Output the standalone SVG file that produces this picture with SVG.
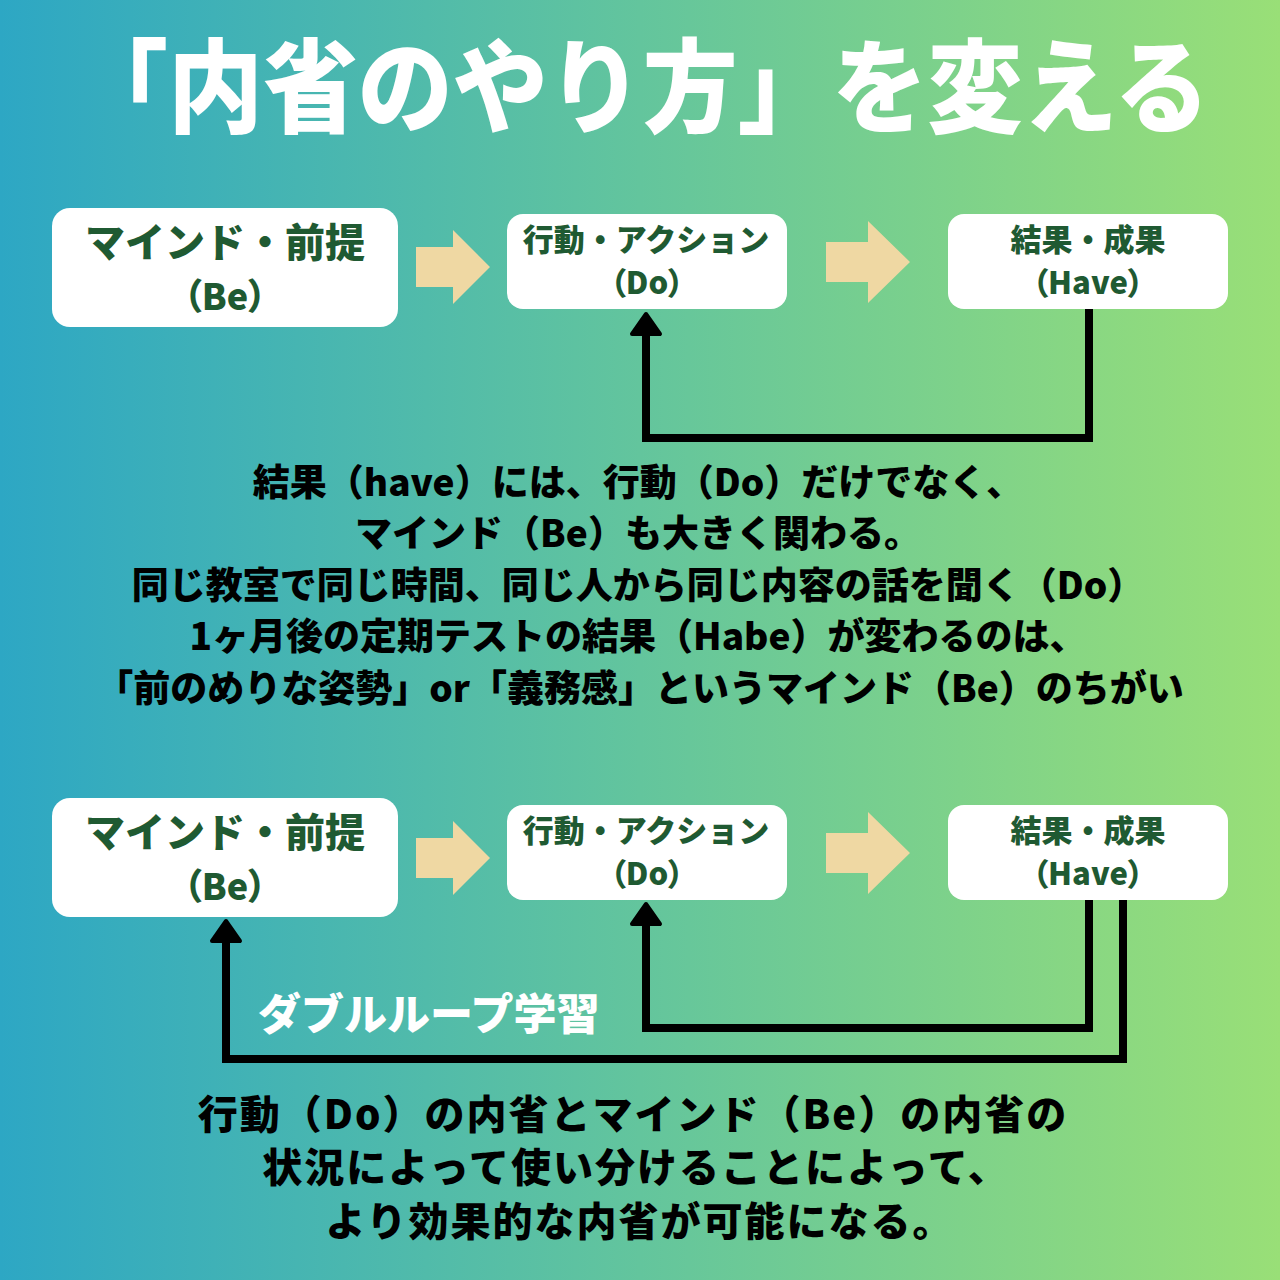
<svg xmlns="http://www.w3.org/2000/svg" width="1280" height="1280" viewBox="0 0 1280 1280">
<defs>
<linearGradient id="bg" x1="0" y1="0" x2="1" y2="0">
<stop offset="0" stop-color="#2DA7C4"/>
<stop offset="0.5" stop-color="#63C59D"/>
<stop offset="1" stop-color="#99DF77"/>
</linearGradient>
<marker id="ah" viewBox="-4 -20 30 40" refX="0" refY="0" markerWidth="30" markerHeight="40" markerUnits="userSpaceOnUse" orient="auto">
<path d="M0,-14 L20,0 L0,14 Z" fill="#000" stroke="#000" stroke-width="4" stroke-linejoin="round"/>
</marker>
<path id="arrowA" d="M0,-20 H37 V-37 L74,0 L37,37 V20 H0 Z"/>
<path id="arrowB" d="M0,-20 H42 V-41 L84,0 L42,41 V20 H0 Z"/>
</defs>
<style>
.jp{font-family:"Noto Sans CJK JP","Noto Sans CJK SC",sans-serif;}
.title{font-size:102px;font-weight:900;fill:#fff;}
.box{fill:#fff;}
.bt{fill:#1F5A32;font-weight:900;text-anchor:middle;}
.palt{font-feature-settings:"palt";}
.body{font-weight:900;fill:#000;text-anchor:middle;}
.conn{fill:none;stroke:#000;stroke-width:8;stroke-linejoin:miter;}
.barrow{fill:#EFD8A3;}
</style>
<rect width="1280" height="1280" fill="url(#bg)"/>

<text class="jp title" transform="translate(73,125) scale(0.931,1)" x="0" y="0">「内省のやり方」を変える</text>

<g id="row1">
<g id="be1"><rect class="box" x="52" y="208" width="346" height="119" rx="18"/>
<text class="jp bt" x="225" y="257" font-size="40">マインド・前提</text>
<text class="jp bt palt" x="225" y="310" font-size="36">（Be）</text></g>
<use href="#arrowA" class="barrow" x="416" y="267"/>
<g id="do1"><rect class="box" x="507" y="214" width="280" height="95" rx="16"/>
<text class="jp bt" x="646" y="251" font-size="31">行動・アクション</text>
<text class="jp bt palt" x="647" y="294" font-size="31">（Do）</text></g>
<use href="#arrowB" class="barrow" x="826" y="262"/>
<g id="have1"><rect class="box" x="948" y="214" width="280" height="95" rx="16"/>
<text class="jp bt" x="1088" y="251" font-size="31">結果・成果</text>
<text class="jp bt palt" x="1088" y="294" font-size="31">（Have）</text></g>
</g>

<g id="row2">
<g id="be2"><rect class="box" x="52" y="798" width="346" height="119" rx="18"/>
<text class="jp bt" x="225" y="847" font-size="40">マインド・前提</text>
<text class="jp bt palt" x="225" y="900" font-size="36">（Be）</text></g>
<use href="#arrowA" class="barrow" x="416" y="858"/>
<g id="do2"><rect class="box" x="507" y="805" width="280" height="95" rx="16"/>
<text class="jp bt" x="646" y="842" font-size="31">行動・アクション</text>
<text class="jp bt palt" x="647" y="885" font-size="31">（Do）</text></g>
<use href="#arrowB" class="barrow" x="826" y="853"/>
<g id="have2"><rect class="box" x="948" y="805" width="280" height="95" rx="16"/>
<text class="jp bt" x="1088" y="842" font-size="31">結果・成果</text>
<text class="jp bt palt" x="1088" y="885" font-size="31">（Have）</text></g>
</g>

<g id="connectors">
<path class="conn" d="M1089,309 V438 H646 V334" marker-end="url(#ah)"/>
<path class="conn" d="M1089,900 V1028 H646 V924" marker-end="url(#ah)"/>
<path class="conn" d="M1123,900 V1059 H226 V941" marker-end="url(#ah)"/>
</g>

<text class="jp" x="258" y="1030" font-size="43" font-weight="900" fill="#fff">ダブルループ学習</text>

<g id="mid-text" class="jp body" font-size="37">
<text x="638" y="496">結果（have）には、行動（Do）だけでなく、</text>
<text x="638" y="547">マインド（Be）も大きく関わる。</text>
<text x="638" y="599">同じ教室で同じ時間、同じ人から同じ内容の話を聞く（Do）</text>
<text x="638" y="650">1ヶ月後の定期テストの結果（Habe）が変わるのは、</text>
<text x="640" y="702">「前のめりな姿勢」or「義務感」というマインド（Be）のちがい</text>
</g>

<g id="bottom-text" class="jp body" font-size="40" letter-spacing="2">
<text x="633" y="1129">行動（Do）の内省とマインド（Be）の内省の</text>
<text x="636" y="1182">状況によって使い分けることによって、</text>
<text x="640" y="1236">より効果的な内省が可能になる。</text>
</g>
</svg>
